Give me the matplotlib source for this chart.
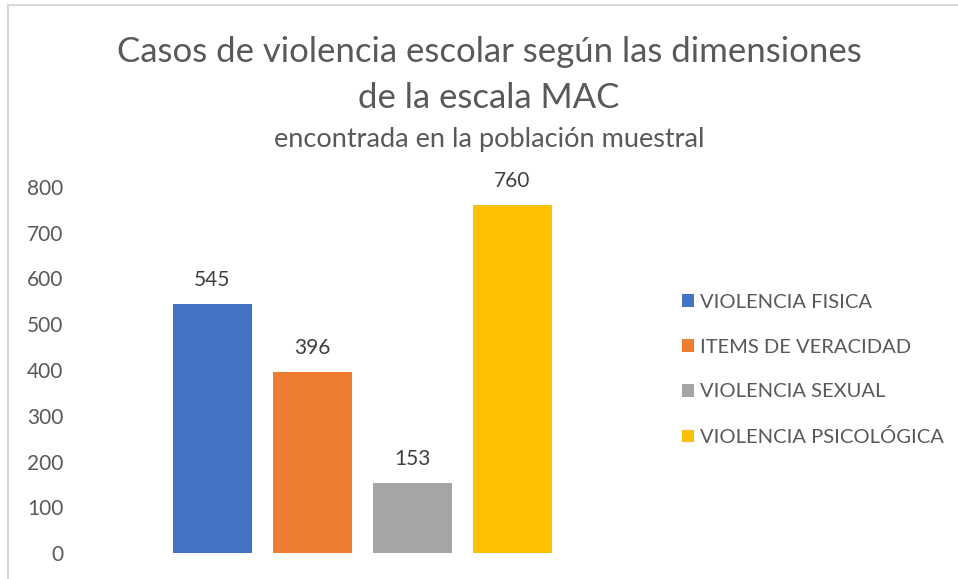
import matplotlib.pyplot as plt
from matplotlib.patches import Rectangle, Patch

# ---- data ----
categories = ["VIOLENCIA FISICA", "ITEMS DE VERACIDAD", "VIOLENCIA SEXUAL", "VIOLENCIA PSICOLÓGICA"]
values = [545, 396, 153, 760]
colors = ["#4472C4", "#ED7D31", "#A5A5A5", "#FFC000"]
yticks = [0, 100, 200, 300, 400, 500, 600, 700, 800]

plt.rcParams['font.family'] = ['Lato', 'DejaVu Sans']
text_gray = "#595959"

W, H = 958, 579
fig = plt.figure(figsize=(W / 100, H / 100), dpi=100)

# axes in pixel coords: left 112, right 612, y0 at 553, y800 at 187
ax = fig.add_axes([112 / W, (H - 553) / H, 500 / W, 366 / H])
x = list(range(len(values)))
ax.bar(x, values, width=0.79, color=colors)
ax.set_xlim(-1, 4)
ax.set_ylim(0, 800)
ax.set_yticks(yticks)
ax.set_yticklabels([str(v) for v in yticks], fontsize=15, color=text_gray)
ax.set_xticks([])
ax.tick_params(axis='y', length=0, pad=35)
for s in ax.spines.values():
    s.set_visible(False)

for xi, v in zip(x, values):
    ax.annotate(str(v), (xi, v), xytext=(0, 10), textcoords="offset points",
                ha="center", va="bottom", fontsize=15, color="#404040")

# titles
fig.text(489 / W, 1 - 52 / H, "Casos de violencia escolar según las dimensiones",
         ha="center", va="center", fontsize=25, color=text_gray)
fig.text(489 / W, 1 - 98 / H, "de la escala MAC",
         ha="center", va="center", fontsize=25, color=text_gray)
fig.text(489 / W, 1 - 139 / H, "encontrada en la población muestral",
         ha="center", va="center", fontsize=19.5, color=text_gray)

# legend
handles = [Patch(facecolor=c, edgecolor="none") for c in colors]
fig.legend(handles, categories, loc="center left", bbox_to_anchor=(664 / W, 1 - 370 / H),
           frameon=False, fontsize=14.5, labelcolor=text_gray, handlelength=0.6,
           handleheight=0.6, handletextpad=0.3, labelspacing=1.38)

# chart border (only top and left edges visible)
fig.patches.append(Rectangle((8 / W, -0.1), 1.2, 1 - 5 / H + 0.1, transform=fig.transFigure,
                             fill=False, edgecolor="#D9D9D9", linewidth=1.5))

fig.savefig("out.png", dpi=100)
